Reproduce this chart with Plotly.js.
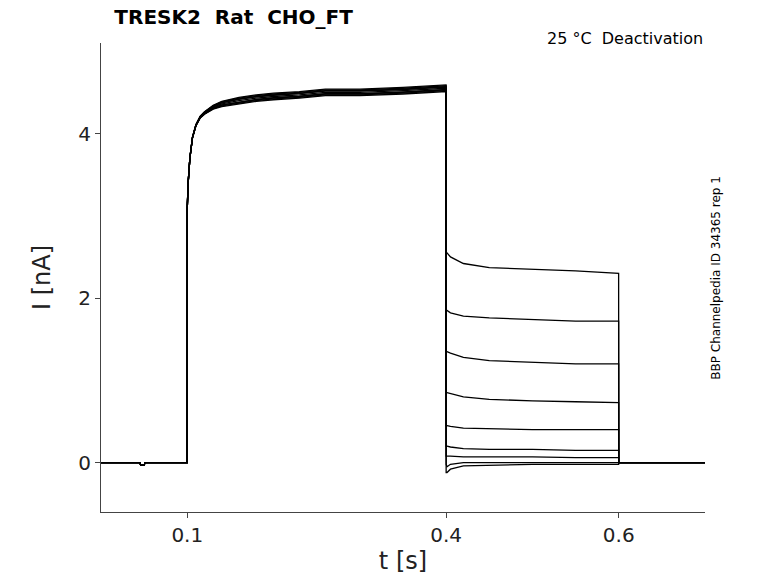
<!DOCTYPE html>
<html><head><meta charset="utf-8">
<script src="https://cdn.plot.ly/plotly-3.0.1.min.js"></script>
<style>body{margin:0}</style></head><body>
<div id="g" style="width:778px;height:583px"></div>
<script>
const actT = [0, 0.045, 0.046, 0.05, 0.051, 0.0999, 0.1, 0.101, 0.103, 0.106, 0.11, 0.115, 0.12, 0.13, 0.14, 0.16, 0.18, 0.2, 0.23, 0.26, 0.3, 0.35, 0.3999];
const actI = [0, 0, -0.03, -0.03, 0, 0, 3.1, 3.4, 3.7, 3.95, 4.1, 4.2, 4.25, 4.32, 4.36, 4.4, 4.43, 4.45, 4.47, 4.5, 4.5, 4.52, 4.55];
const actOffsets = [-0.04, -0.03, -0.015, 0, 0.015, 0.03, 0.04, -0.02, 0.02];
const deaT = [0.4, 0.401, 0.405, 0.42, 0.45, 0.5, 0.55, 0.5999, 0.6, 0.62, 0.7];
const deaI = [
  [2.55, 2.55, 2.5, 2.42, 2.37, 2.35, 2.33, 2.3, 0, 0, 0],
  [1.85, 1.85, 1.82, 1.78, 1.76, 1.74, 1.72, 1.72, 0, 0, 0],
  [1.35, 1.35, 1.33, 1.28, 1.24, 1.22, 1.2, 1.2, 0, 0, 0],
  [0.85, 0.85, 0.84, 0.8, 0.77, 0.75, 0.74, 0.73, 0, 0, 0],
  [0.45, 0.45, 0.44, 0.42, 0.41, 0.4, 0.4, 0.4, 0, 0, 0],
  [0.2, 0.2, 0.19, 0.17, 0.16, 0.16, 0.15, 0.15, 0, 0, 0],
  [0.08, 0.08, 0.08, 0.07, 0.07, 0.07, 0.06, 0.06, 0, 0, 0],
  [-0.02, -0.05, -0.02, 0, 0, 0, 0, 0, 0, 0, 0],
  [-0.12, -0.12, -0.08, -0.04, -0.03, -0.02, -0.02, -0.02, 0, 0, 0]
];
const traces = deaI.map((d, k) => ({
  x: actT.concat(deaT),
  y: actI.map((v, i) => i >= 6 ? v + actOffsets[k] * Math.min(1, (actT[i] - 0.1) / 0.05) : v).concat(d),
  mode: 'lines', line: {color: 'black', width: 1.3}, hoverinfo: 'skip'
}));
Plotly.newPlot('g', traces, {
  width: 778, height: 583, showlegend: false,
  paper_bgcolor: 'white', plot_bgcolor: 'white',
  margin: {l: 101, r: 73, t: 43, b: 71},
  font: {family: 'DejaVu Sans', color: '#222'},
  title: {text: '<b>TRESK2  Rat  CHO_FT</b>', x: 0.147, xanchor: 'left', y: 0.982, yanchor: 'top', font: {family: 'DejaVu Sans', size: 20, color: 'black'}},
  xaxis: {range: [0, 0.7], tickvals: [0.1, 0.4, 0.6], ticktext: ['0.1', '0.4', '0.6'], showgrid: false, zeroline: false,
    showline: true, linecolor: '#444', ticks: 'outside', ticklen: 5, tickcolor: '#444',
    tickfont: {size: 20, family: 'DejaVu Sans', color: '#222'}, title: {text: 't [s]', font: {size: 24, family: 'DejaVu Sans', color: '#222'}, standoff: 6}},
  yaxis: {range: [-0.6, 5.1], tickvals: [0, 2, 4], showgrid: false, zeroline: false,
    showline: true, linecolor: '#444', ticks: 'outside', ticklen: 5, tickcolor: '#444',
    tickfont: {size: 20, family: 'DejaVu Sans', color: '#222'}, title: {text: 'I [nA]', font: {size: 24, family: 'DejaVu Sans', color: '#222'}, standoff: 20}},
  annotations: [
    {text: '25 °C  Deactivation', xref: 'paper', yref: 'paper', x: 1, y: 0.985, xanchor: 'right', yanchor: 'bottom', showarrow: false, font: {size: 16, family: 'DejaVu Sans', color: 'black'}},
    {text: 'BBP Channelpedia ID 34365 rep 1', xref: 'paper', yref: 'paper', x: 1.002, y: 0.5, xanchor: 'left', yanchor: 'middle', textangle: -90, showarrow: false, font: {size: 12, family: 'DejaVu Sans', color: 'black'}}
  ]
}, {displayModeBar: false});
</script></body></html>
